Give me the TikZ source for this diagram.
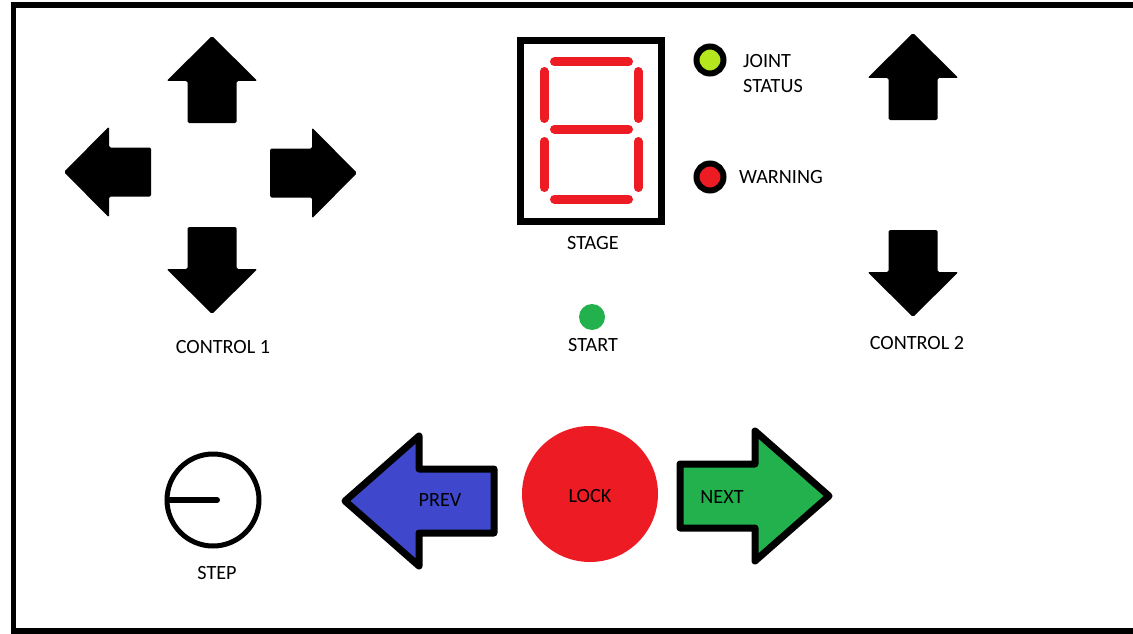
\documentclass[tikz,border=0pt]{standalone}
\usepackage{fontspec}
\setmainfont{Carlito}
\usepackage{xcolor}
\usepackage{tikz}
\definecolor{paintred}{HTML}{ED1C24}
\definecolor{paintgreen}{HTML}{22B14C}
\definecolor{paintblue}{HTML}{3F48CC}
\definecolor{paintlime}{HTML}{B5E61D}

\begin{document}
\begin{tikzpicture}[x=1pt,y=-1pt,
        paneltext/.style={font=\fontsize{20.2}{25}\selectfont,inner sep=0pt},
        padarrow/.pic={\fill[rounded corners=1.5pt] (0,0) -- (-45,45.5) -- (-45,24.5) -- (-87,24.5) -- (-87,-24.5) -- (-45,-24.5) -- (-45,-45.5) -- cycle;},
        bigarrow/.pic={\filldraw[fill=#1,line width=7pt,line join=round] (0,0) -- (-74,65) -- (-74,32) -- (-149,32) -- (-149,-32) -- (-74,-32) -- (-74,-65) -- cycle;},
        ledseg/.style={paintred,line width=9pt,line cap=round},
        lamp/.style={draw,line width=6pt,fill=#1}]
        \useasboundingbox (0,0) rectangle (1133,634);
        % outer frame
        \draw[line width=5.5pt] (13.5,5) rectangle (1160,631);
        % control 1
        \pic[rotate=90] at (212,36) {padarrow};
        \pic[rotate=180] at (64,172) {padarrow};
        \pic at (357,173) {padarrow};
        \pic[rotate=-90] at (212,314) {padarrow};
        \node[paneltext] (ctrlone) at (223,347) {CONTROL 1};
        % control 2
        \pic[rotate=90] at (913,33) {padarrow};
        \pic[rotate=-90] at (913,317) {padarrow};
        \node[paneltext] (ctrltwo) at (917,343) {CONTROL 2};
        % stage display
        \draw[line width=6.5pt] (520.5,40.5) rectangle (661.5,221.5);
        \foreach \y in {62,129,199}
            \draw[ledseg] (554.5,\y) -- (628.5,\y);
        \foreach \x in {544,638} {
            \draw[ledseg] (\x,71.5) -- (\x,118.5);
            \draw[ledseg] (\x,141.5) -- (\x,187.5);
        }
        \node[paneltext] (stage) at (593,243) {STAGE};
        % status lamps
        \draw[lamp=paintlime] (710,60) circle (13.5);
        \node[paneltext,anchor=west,align=left] (joint) at (743,73.5) {JOINT\\STATUS};
        \draw[lamp=paintred] (710,177) circle (13.5);
        \node[paneltext,anchor=west] (warning) at (739,177) {WARNING};
        % start
        \fill[paintgreen] (592,317) circle (13);
        \node[paneltext] (start) at (593,345) {START};
        % step knob
        \draw[line width=5pt] (213,500) circle (46);
        \draw[line width=6pt,line cap=round] (170,500) -- (217,500);
        \node[paneltext] (step) at (217,573) {STEP};
        % prev, lock, next
        \pic[rotate=180] at (345,501) {bigarrow=paintblue};
        \node[paneltext] (prev) at (440,500) {PREV};
        \fill[paintred] (590,494) circle (68);
        \node[paneltext] (lock) at (590,496) {LOCK};
        \pic at (829,496) {bigarrow=paintgreen};
        \node[paneltext] (next) at (722,497) {NEXT};
    \end{tikzpicture}
\end{document}
